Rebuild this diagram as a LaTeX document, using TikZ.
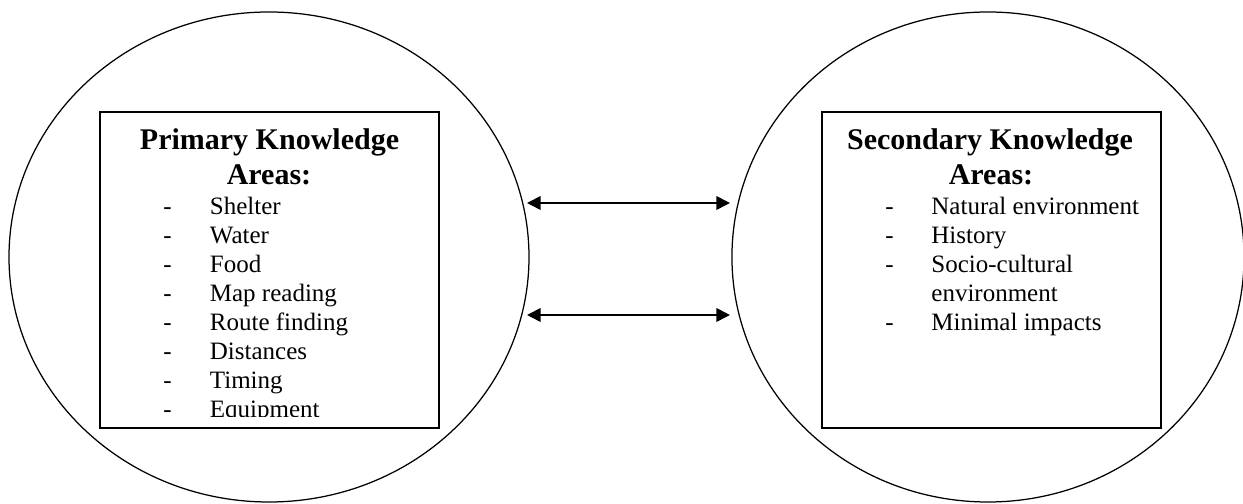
\documentclass[tikz,border=0pt]{standalone}
\usepackage{fontspec}
\setmainfont{Liberation Serif}
\usetikzlibrary{shapes.geometric,arrows.meta}

\begin{document}
\begin{tikzpicture}[x=0.48pt,y=-0.48pt,
  ring/.style={draw, ellipse, line width=0.6pt, inner sep=0pt},
  areabox/.style={draw, rectangle, line width=0.9pt, inner sep=0pt},
  heading/.style={inner sep=0pt, anchor=base, font=\fontsize{14.4}{17}\selectfont\bfseries},
  item/.style={inner sep=0pt, anchor=base west, font=\fontsize{12}{14}\selectfont},
  link/.style={line width=0.8pt, {Triangle[length=6.5pt,width=6.5pt]}-{Triangle[length=6.5pt,width=6.5pt]}}]

\useasboundingbox (0,0) rectangle (1243,504);

% the two knowledge spheres
\node[ring, minimum width=249.6pt, minimum height=235.2pt] (lring) at (269,257) {};
\node[ring, minimum width=245.8pt, minimum height=235.2pt] (rring) at (988,257) {};

% framed lists inside them
\node[areabox, minimum width=162.7pt, minimum height=151.7pt] (lbox) at (269.5,270) {};
\node[areabox, minimum width=162.7pt, minimum height=151.7pt] (rbox) at (991.5,270) {};

% primary areas
\node[heading] (lt1) at (269.5,150) {Primary Knowledge};
\node[heading] (lt2) at (269,185) {Areas:};
\begin{scope}
  \clip (101,113) rectangle (438,417);
  \foreach \txt [count=\i] in {Shelter,Water,Food,Map reading,Route finding,Distances,Timing,Equipment}{
    \pgfmathsetmacro{\yy}{215+(\i-1)*28.86}
    \node[item] (ld\i) at (163,\yy) {-};
    \node[item] (li\i) at (209.5,\yy) {\txt};
  }
\end{scope}

% secondary areas
\node[heading] (rt1) at (990,150) {Secondary Knowledge};
\node[heading] (rt2) at (991,185) {Areas:};
\foreach \i/\yy in {1/215,2/243.9,3/272.7,5/330.4}{
  \node[item] (rd\i) at (885,\yy) {-};
}
\node[item] (ri1) at (931,215) {Natural environment};
\node[item] (ri2) at (931,243.9) {History};
\node[item] (ri3) at (931,272.7) {Socio-cultural};
\node[item] (ri4) at (931,301.6) {environment};
\node[item] (ri5) at (931,330.4) {Minimal impacts};

% two-way links between the spheres
\coordinate (a1l) at (527,203);
\coordinate (a1r) at (730,203);
\coordinate (a2l) at (527,315);
\coordinate (a2r) at (730,315);
\draw[link] (a1l) -- (a1r);
\draw[link] (a2l) -- (a2r);
\end{tikzpicture}
\end{document}
